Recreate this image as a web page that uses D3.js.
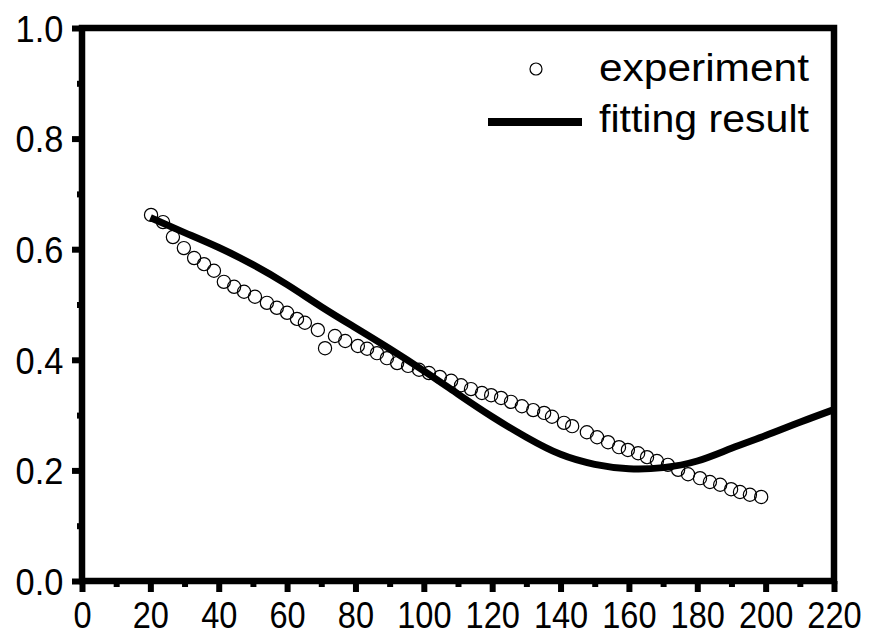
<!DOCTYPE html>
<html>
<head>
<meta charset="utf-8">
<script src="https://cdn.jsdelivr.net/npm/d3@7"></script>
<style>
  html, body { margin: 0; padding: 0; background: #fff; }
  svg { display: block; font-family: "Liberation Sans", Arial, sans-serif; }
</style>
</head>
<body>
<svg id="chart" width="869" height="637"></svg>
<script>
// Measured transmission (experiment) vs. angle
const expX = [20.2, 23.7, 26.6, 29.8, 32.8, 35.7, 38.6, 41.5, 44.5, 47.4,
  50.6, 54.1, 57.0, 60.0, 62.9, 65.2, 69.0, 71.1, 74.0, 77.0,
  80.7, 83.4, 86.3, 89.2, 92.2, 95.4, 98.6, 101.5, 104.7, 108.0,
  110.9, 113.8, 117.0, 119.7, 122.6, 125.5, 128.7, 132.0, 135.2, 137.5,
  141.0, 143.4, 147.7, 150.7, 153.9, 157.1, 159.7, 162.7, 165.3, 168.2,
  171.4, 174.4, 177.3, 180.8, 183.7, 186.7, 189.9, 192.5, 195.4, 198.7];
const expY = [0.662, 0.649, 0.622, 0.602, 0.584, 0.573, 0.561, 0.541, 0.532, 0.523,
  0.514, 0.503, 0.494, 0.485, 0.474, 0.467, 0.454, 0.421, 0.443, 0.434,
  0.425, 0.420, 0.412, 0.403, 0.394, 0.389, 0.382, 0.376, 0.369, 0.362,
  0.354, 0.347, 0.340, 0.336, 0.331, 0.324, 0.316, 0.309, 0.304, 0.297,
  0.286, 0.280, 0.269, 0.260, 0.251, 0.242, 0.237, 0.231, 0.224, 0.217,
  0.210, 0.201, 0.193, 0.186, 0.179, 0.174, 0.166, 0.161, 0.156, 0.152];

// Fitted model curve
const fitX = [20, 30, 40, 50, 60, 70, 80, 90, 100, 110, 120, 130, 140, 150, 160, 170, 180, 190, 200, 210, 220];
const fitY = [0.657, 0.630, 0.603, 0.572, 0.536, 0.496, 0.458, 0.420, 0.380, 0.338, 0.297, 0.260, 0.229, 0.211, 0.203, 0.205, 0.217, 0.240, 0.263, 0.287, 0.310];

const xTicks = [0, 20, 40, 60, 80, 100, 120, 140, 160, 180, 200, 220];
const yTicks = [0.0, 0.2, 0.4, 0.6, 0.8, 1.0];
const legendLabels = ["experiment", "fitting result"];

const svg = d3.select("#chart");
const plotLeft = 82, plotRight = 834, plotTop = 28, plotBottom = 581;

const x = d3.scaleLinear().domain([0, 220]).range([plotLeft, plotRight]);
const y = d3.scaleLinear().domain([0, 1]).range([plotBottom, plotTop]);

// Fitted curve
const line = d3.line()
  .x((d, i) => x(fitX[i]))
  .y((d, i) => y(fitY[i]))
  .curve(d3.curveNatural);
svg.append("path")
  .datum(fitX)
  .attr("d", line)
  .attr("fill", "none")
  .attr("stroke", "#000")
  .attr("stroke-width", 7);

// Experimental points
svg.append("g").selectAll("circle")
  .data(expX)
  .join("circle")
  .attr("cx", d => x(d))
  .attr("cy", (d, i) => y(expY[i]))
  .attr("r", 6.6)
  .attr("fill", "none")
  .attr("stroke", "#000")
  .attr("stroke-width", 1.2);

// Minor ticks
const minorX = d3.range(10, 220, 20);
const minorY = [0.1, 0.3, 0.5, 0.7, 0.9];

const xAxis = svg.append("g").attr("transform", `translate(0,${plotBottom})`)
  .call(d3.axisBottom(x).tickValues(xTicks).tickFormat(d3.format("d")).tickSize(11).tickPadding(10));
const xMinor = svg.append("g").attr("transform", `translate(0,${plotBottom})`)
  .call(d3.axisBottom(x).tickValues(minorX).tickFormat("").tickSize(6));

const yAxis = svg.append("g").attr("transform", `translate(${plotLeft},0)`)
  .call(d3.axisLeft(y).tickValues(yTicks).tickFormat(d3.format(".1f")).tickSize(10).tickPadding(10));
const yMinor = svg.append("g").attr("transform", `translate(${plotLeft},0)`)
  .call(d3.axisLeft(y).tickValues(minorY).tickFormat("").tickSize(5));

[xAxis, xMinor, yAxis, yMinor].forEach(g => {
  g.select(".domain").remove();
  g.selectAll(".tick line").attr("stroke", "#000").attr("stroke-width", 6);
});

xAxis.selectAll(".tick text")
  .attr("font-size", 37)
  .attr("fill", "#000")
  .attr("font-family", "Liberation Sans, Arial, sans-serif")
  .attr("transform", "scale(0.88,1)");
yAxis.selectAll(".tick text")
  .attr("font-size", 37)
  .attr("fill", "#000")
  .attr("font-family", "Liberation Sans, Arial, sans-serif")
  .attr("dy", "0.36em")
  .attr("transform", "scale(0.93,1)");

// Frame
svg.append("rect")
  .attr("x", plotLeft).attr("y", plotTop)
  .attr("width", plotRight - plotLeft).attr("height", plotBottom - plotTop)
  .attr("fill", "none")
  .attr("stroke", "#000")
  .attr("stroke-width", 6.5);

// Legend
const legend = svg.append("g");
legend.append("circle")
  .attr("cx", 536).attr("cy", 69).attr("r", 6)
  .attr("fill", "none").attr("stroke", "#000").attr("stroke-width", 1.2);
legend.append("line")
  .attr("x1", 488).attr("x2", 582).attr("y1", 122).attr("y2", 122)
  .attr("stroke", "#000").attr("stroke-width", 8);
legend.selectAll("text")
  .data(legendLabels)
  .join("text")
  .attr("x", 599)
  .attr("y", (d, i) => i === 0 ? 81 : 132)
  .attr("font-size", 39)
  .attr("fill", "#000")
  .attr("textLength", 210)
  .attr("lengthAdjust", "spacingAndGlyphs")
  .text(d => d);
</script>
</body>
</html>
